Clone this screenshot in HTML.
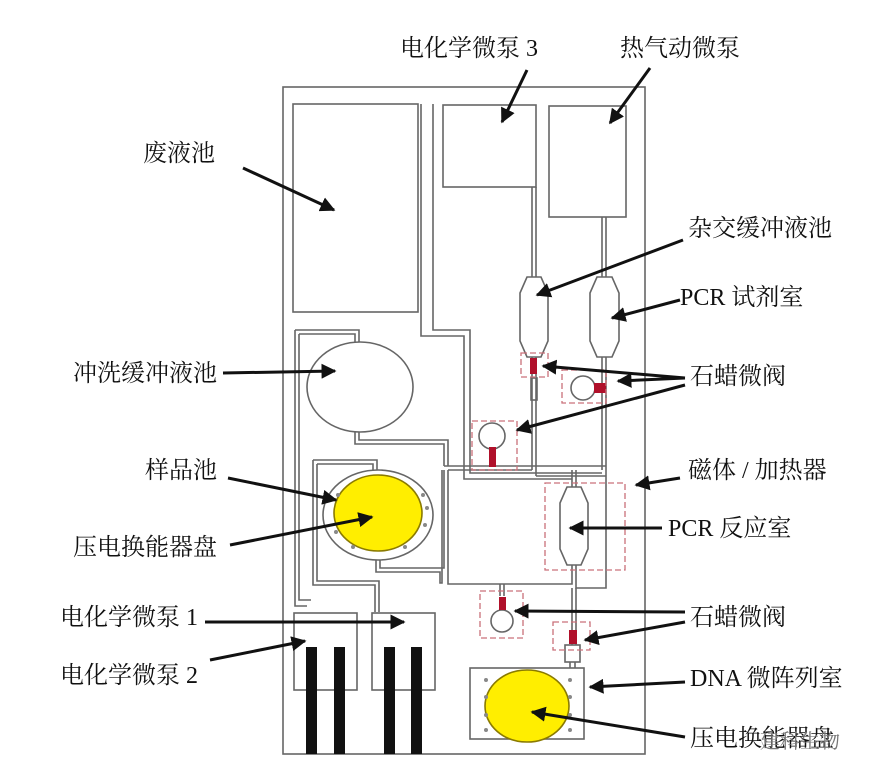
<!DOCTYPE html>
<html><head><meta charset="utf-8"><style>
body{margin:0;background:#fff;}
svg{display:block}
text{font-family:"Liberation Serif","Noto Serif CJK SC",serif;font-size:24px;fill:#111}
</style></head><body>
<svg width="896" height="780" viewBox="0 0 896 780" xmlns="http://www.w3.org/2000/svg">
<defs><marker id="a" viewBox="0 0 10 10" refX="9" refY="5" markerWidth="5" markerHeight="5" orient="auto"><path d="M0,0L10,5L0,10z" fill="#111"/></marker></defs>
<g fill="none" stroke="#666" stroke-width="1.6">
<rect x="283" y="87" width="362" height="667"/>
<rect x="293" y="104" width="125" height="208"/>
<path d="M421 104V336H464V472M433 104V330H470V466"/>
<rect x="443" y="105" width="93" height="82"/>
<rect x="549" y="106" width="77" height="111"/>
<path d="M532 187V277M536 187V277M602 217V277M606 217V277"/>
<path d="M520 293L527 277H541L548 293V341L541 357H527L520 341Z"/>
<path d="M590 293L597 277H612L619 293V341L612 357H597L590 341Z"/>
<path d="M532 357V400M536 357V400M602 357V470M606 357V476"/>
<rect x="531" y="378" width="6" height="22"/>
<path d="M532 400V470M536 400V476"/>
<ellipse cx="360" cy="387" rx="53" ry="45"/>
<path d="M295 330H359V342M299 334H355V342M299 334V600H311M295 330V606H307"/>
<path d="M355 432V444H444V466M359 432V440H448V466"/>
<path d="M444 466H606M448 470H532M536 476H606"/>
<path d="M470 466V473H602M464 472V479H572"/>
<path d="M313 460H377V470M317 464H373V470M313 460V585H375V612M317 464V581H379V612"/>
<ellipse cx="378" cy="515" rx="55" ry="45"/>
<path d="M376 560V572H440V583H442V470M380 560V568H444V470"/>
<path d="M572 470V487M576 470V487"/>
<path d="M560 503L567 487H581L588 503V549L581 565H567L560 549Z"/>
<path d="M572 565V584H448V470M576 565V588H606V476"/>
<path d="M500 584V596M504 584V596M572 588V645M576 588V645"/>
<circle cx="502" cy="621" r="11"/>
<rect x="565" y="645" width="15" height="17"/>
<path d="M570 662V668M575 662V668"/>
<circle cx="583" cy="388" r="12"/>
<circle cx="492" cy="436" r="13"/>
<rect x="294" y="613" width="63" height="77"/>
<rect x="372" y="613" width="63" height="77"/>
<rect x="470" y="668" width="114" height="71"/>
<ellipse cx="378" cy="513" rx="44" ry="38" fill="#ffee00" stroke="#8a7a00"/>
<ellipse cx="527" cy="706" rx="42" ry="36" fill="#ffee00" stroke="#8a7a00"/>
</g>
<g fill="#b0102a">
<rect x="530" y="358" width="7" height="16"/>
<rect x="594" y="383" width="12" height="10"/>
<rect x="489" y="447" width="7" height="20"/>
<rect x="499" y="597" width="7" height="13"/>
<rect x="569" y="630" width="8" height="14"/>
</g>
<g fill="none" stroke="#c9707a" stroke-width="1.3" stroke-dasharray="6,3">
<rect x="521" y="353" width="27" height="24"/>
<rect x="562" y="370" width="44" height="33"/>
<rect x="472" y="421" width="45" height="49"/>
<rect x="545" y="483" width="80" height="87"/>
<rect x="480" y="591" width="43" height="47"/>
<rect x="553" y="622" width="37" height="28"/>
</g>
<g fill="#111">
<rect x="306" y="647" width="11" height="107"/><rect x="334" y="647" width="11" height="107"/>
<rect x="384" y="647" width="11" height="107"/><rect x="411" y="647" width="11" height="107"/>
</g>
<g fill="#888">
<circle cx="338" cy="495" r="2"/><circle cx="423" cy="495" r="2"/><circle cx="336" cy="532" r="2"/><circle cx="425" cy="525" r="2"/><circle cx="353" cy="547" r="2"/><circle cx="405" cy="547" r="2"/><circle cx="427" cy="508" r="2"/>
<circle cx="486" cy="680" r="2"/><circle cx="486" cy="697" r="2"/><circle cx="486" cy="715" r="2"/><circle cx="486" cy="730" r="2"/>
<circle cx="570" cy="680" r="2"/><circle cx="570" cy="697" r="2"/><circle cx="570" cy="715" r="2"/><circle cx="570" cy="730" r="2"/>
</g>
<g stroke="#111" stroke-width="3" marker-end="url(#a)">
<line x1="527" y1="70" x2="502" y2="122"/>
<line x1="650" y1="68" x2="610" y2="123"/>
<line x1="243" y1="168" x2="334" y2="210"/>
<line x1="683" y1="240" x2="537" y2="295"/>
<line x1="680" y1="300" x2="612" y2="318"/>
<line x1="223" y1="373" x2="335" y2="371"/>
<line x1="685" y1="378" x2="543" y2="366"/>
<line x1="685" y1="378" x2="618" y2="381"/>
<line x1="685" y1="385" x2="517" y2="430"/>
<line x1="680" y1="478" x2="636" y2="485"/>
<line x1="228" y1="478" x2="336" y2="500"/>
<line x1="662" y1="528" x2="570" y2="528"/>
<line x1="230" y1="545" x2="372" y2="517"/>
<line x1="205" y1="622" x2="404" y2="622"/>
<line x1="685" y1="612" x2="515" y2="611"/>
<line x1="685" y1="622" x2="585" y2="640"/>
<line x1="210" y1="660" x2="305" y2="641"/>
<line x1="685" y1="682" x2="590" y2="687"/>
<line x1="685" y1="737" x2="532" y2="712"/>
</g>
<text x="400" y="56">电化学微泵 3</text>
<text x="620" y="56">热气动微泵</text>
<text x="143" y="161">废液池</text>
<text x="688" y="236">杂交缓冲液池</text>
<text x="680" y="305">PCR 试剂室</text>
<text x="73" y="381">冲洗缓冲液池</text>
<text x="690" y="384">石蜡微阀</text>
<text x="688" y="478">磁体 / 加热器</text>
<text x="145" y="478">样品池</text>
<text x="668" y="536">PCR 反应室</text>
<text x="73" y="555">压电换能器盘</text>
<text x="60" y="625">电化学微泵 1</text>
<text x="690" y="625">石蜡微阀</text>
<text x="60" y="683">电化学微泵 2</text>
<text x="690" y="686">DNA 微阵列室</text>
<text x="690" y="746">压电换能器盘</text>
<text x="760" y="748" style="fill:#777;font-size:20px">建科生物</text>
</svg>
</body></html>
